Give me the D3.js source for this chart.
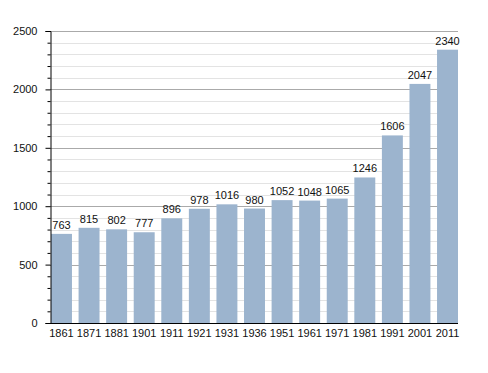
<!DOCTYPE html>
<html><head><meta charset="utf-8">
<script src="https://cdn.jsdelivr.net/npm/d3@7"></script>
<style>body{margin:0;background:#fff;}svg{display:block;font-family:"Liberation Sans",Arial,sans-serif;}</style>
</head><body>
<svg id="c" width="488" height="373"></svg>
<script>
const years = ["1861","1871","1881","1901","1911","1921","1931","1936","1951","1961","1971","1981","1991","2001","2011"];
const population = [763,815,802,777,896,978,1016,980,1052,1048,1065,1246,1606,2047,2340];
const majorTicks = [0,500,1000,1500,2000,2500];

(function(){
const svg = d3.select("#c");
const mLeft = 50, mRight = 458, mTop = 31, mBottom = 323;
const y = d3.scaleLinear().domain([0,2500]).range([mBottom, mTop]);
const x = d3.scaleBand().domain(years).range([mLeft+1, mRight]).paddingInner(0.24).paddingOuter(0);

const minor = d3.range(0, 2501, 100).filter(v => v % 500 !== 0);
svg.append("g").selectAll("line").data(minor).join("line")
  .attr("x1", mLeft).attr("x2", mRight).attr("y1", d=>Math.round(y(d))+0.5).attr("y2", d=>Math.round(y(d))+0.5)
  .attr("stroke", "#e3e3e3").attr("stroke-width", 1);
svg.append("g").selectAll("line").data(majorTicks.filter(d=>d>0)).join("line")
  .attr("x1", mLeft).attr("x2", mRight).attr("y1", d=>Math.round(y(d))+0.5).attr("y2", d=>Math.round(y(d))+0.5)
  .attr("stroke", "#aaaaaa").attr("stroke-width", 1);

svg.append("g").selectAll("rect").data(years).join("rect")
  .attr("x", d=>x(d)).attr("width", x.bandwidth())
  .attr("y", (d,i)=>y(population[i])).attr("height", (d,i)=>mBottom - y(population[i]))
  .attr("fill", "#9cb4ce");

svg.append("g").selectAll("text").data(years).join("text")
  .attr("x", d=>x(d)+x.bandwidth()/2).attr("y", (d,i)=>y(population[i]) - 5)
  .attr("text-anchor", "middle").attr("font-size", 11).attr("fill", "#111")
  .text((d,i)=>population[i]);

const yAxis = d3.axisLeft(y).tickValues(majorTicks).tickSize(5).tickPadding(8).tickFormat(d3.format("d"));
const ga = svg.append("g").attr("transform", `translate(${mLeft+0.5},0)`).call(yAxis);
ga.select(".domain").attr("stroke", "#000");
ga.selectAll(".tick line").attr("stroke", "#000");
ga.selectAll("text").attr("font-size", 11).attr("fill", "#111").attr("font-family", "Liberation Sans, Arial, sans-serif");
const yMinor = d3.axisLeft(y).tickValues(minor).tickSize(3).tickFormat("");
const gm = svg.append("g").attr("transform", `translate(${mLeft+0.5},0)`).call(yMinor);
gm.select(".domain").remove();
gm.selectAll(".tick line").attr("stroke", "#000");

const xAxis = d3.axisBottom(x).tickSize(0).tickPadding(6);
const gx = svg.append("g").attr("transform", `translate(0,${mBottom+0.5})`).call(xAxis);
gx.select(".domain").attr("stroke", "#000").attr("d", `M${mLeft},0H${mRight}`);
gx.selectAll("text").attr("font-size", 11).attr("fill", "#111").attr("font-family", "Liberation Sans, Arial, sans-serif");
})();
</script>
</body></html>
